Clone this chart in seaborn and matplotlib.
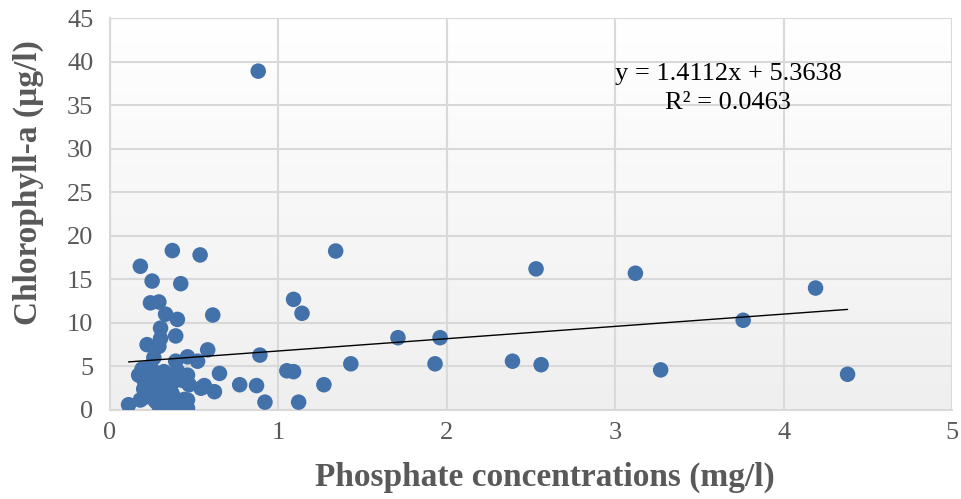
import numpy as np
import pandas as pd
import matplotlib
matplotlib.use("Agg")
import matplotlib.pyplot as plt
import seaborn as sns

# Phosphate (mg/l)
phosphate = [
    0.88, 1.34, 2.53, 3.12, 4.19, 3.76, 1.71, 1.96, 2.39, 2.56, 1.93, 1.43, 3.27, 4.38,
    1.27, 1.12, 1.09, 1.14, 1.05, 1.09, 0.89, 0.87, 0.92, 0.77, 0.65, 0.62, 0.61, 0.58,
    0.56, 0.54, 0.535, 0.37, 0.18, 0.25, 0.42, 0.24, 0.29, 0.33, 0.40, 0.30, 0.39, 0.30,
    0.22, 0.29, 0.26, 0.39, 0.46, 0.52, 0.55, 0.11, 0.18, 0.29, 0.39, 0.46, 0.46,
    0.17, 0.19, 0.20, 0.21, 0.22, 0.24, 0.25, 0.26, 0.27, 0.28, 0.29, 0.30, 0.31, 0.32,
    0.33, 0.35, 0.36, 0.37, 0.38, 0.40, 0.43, 0.44, 0.20, 0.23, 0.27, 0.33, 0.36, 0.24,
    0.20, 0.34, 0.46, 0.47,
]
# Chlorophyll-a (ug/l)
chlorophyll = [
    38.9, 18.25, 16.2, 15.7, 14.0, 10.3, 8.3, 8.3, 5.6, 5.2, 5.3, 5.3, 4.6, 4.1,
    2.9, 0.9, 12.7, 11.1, 4.5, 4.4, 6.3, 2.8, 0.9, 2.9, 4.2, 2.1, 10.9, 6.9,
    2.8, 2.5, 17.8, 18.3, 16.5, 14.8, 14.5, 12.3, 12.4, 11.0, 10.4, 9.4, 8.5, 8.2,
    7.5, 7.3, 6.0, 5.6, 6.1, 5.6, 2.6, 0.6, 1.15, 0.5, 0.3, 0.2, 1.15,
    4.0, 4.7, 3.5, 3.0, 4.3, 5.0, 4.6, 3.8, 3.2, 2.5, 4.0, 3.5, 2.2, 4.4,
    3.0, 2.6, 4.0, 1.8, 3.3, 4.5, 3.4, 1.2, 1.4, 1.8, 1.0, 1.5, 2.2, 2.6,
    2.4, 0.7, 4.0, 2.9,
]
slope = 1.4112
intercept = 5.3638
r_squared = 0.0463
x_ticks = [0, 1, 2, 3, 4, 5]
y_ticks = [0, 5, 10, 15, 20, 25, 30, 35, 40, 45]

df = pd.DataFrame({"Phosphate": phosphate, "Chlorophyll": chlorophyll})

sns.set_style("white")
plt.rcParams["font.family"] = ["Liberation Serif", "DejaVu Serif"]

fig = plt.figure(figsize=(9.61, 4.99), dpi=100)
ax = fig.add_axes([0.1145, 0.1784, 0.9906 - 0.1145, 0.9639 - 0.1784])

ax.set_xlim(0, 5)
ax.set_ylim(0, 45)

# gradient background (white at top -> light grey at bottom)
grad = np.linspace(1.0, 0.0, 256).reshape(-1, 1)
cmap = matplotlib.colors.LinearSegmentedColormap.from_list("bg", ["#efefef", "#ffffff"])
ax.imshow(grad, extent=[0, 5, 0, 45], aspect="auto", cmap=cmap, origin="upper",
          zorder=0, interpolation="bicubic")

ax.set_xticks(x_ticks)
ax.set_yticks(y_ticks)
ax.grid(True, color="#d9d9d9", linewidth=1.5, zorder=1)
ax.set_axisbelow(True)
for s in ["top", "right"]:
    ax.spines[s].set_visible(False)
for s in ["left", "bottom"]:
    ax.spines[s].set_color("#d9d9d9")
    ax.spines[s].set_linewidth(1.5)

sns.scatterplot(data=df, x="Phosphate", y="Chlorophyll", ax=ax, s=125,
                color="#4371AA", edgecolor="none", zorder=3, legend=False)

xr = np.array([min(phosphate), max(phosphate)])
ax.plot(xr, slope * xr + intercept, color="black", linewidth=1.0, zorder=4)

ax.text(3.67, 38.6, f"y = {slope:.4f}x + {intercept:.4f}", ha="center", va="center",
        fontsize=19, color="black", zorder=5)
ax.text(3.67, 35.2, f"R² = {r_squared:.4f}", ha="center", va="center",
        fontsize=19, color="black", zorder=5)

ax.tick_params(axis="y", length=0, labelsize=19, labelcolor="#595959", pad=12)
ax.tick_params(axis="x", length=0, labelsize=19, labelcolor="#595959", pad=9)
ax.set_xlabel("Phosphate concentrations (mg/l)", fontsize=24, fontweight="bold",
              color="#595959")
ax.set_ylabel("Chlorophyll-a (µg/l)", fontsize=24, fontweight="bold",
              color="#595959")
ax.xaxis.set_label_coords(0.517, -0.171)
ax.yaxis.set_label_coords(-0.097, 0.579)
ax.xaxis.label.set_va("center")
ax.yaxis.label.set_va("center")

fig.savefig("out.png", dpi=100)
